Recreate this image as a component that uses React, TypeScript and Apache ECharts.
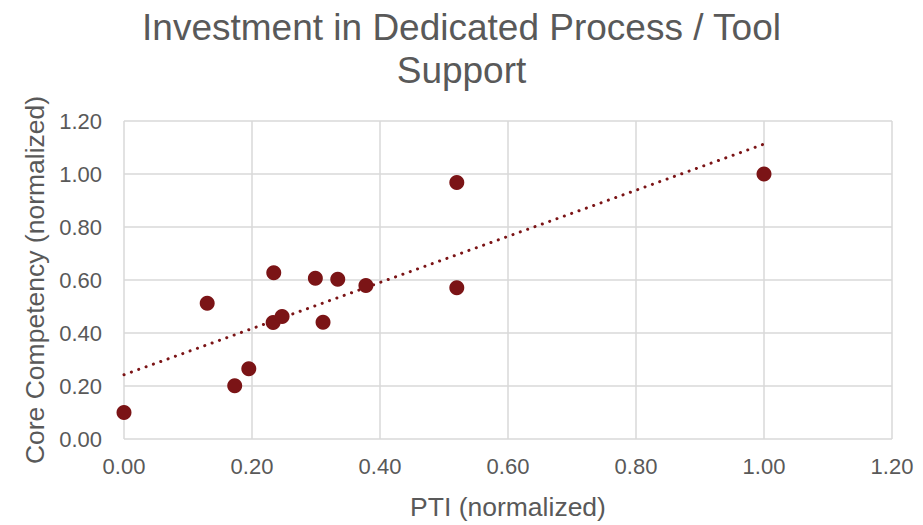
import React, { useEffect, useRef } from "react";
import * as echarts from "echarts";

const titleText = "Investment in Dedicated Process / Tool\nSupport";
const xAxisName = "PTI (normalized)";
const yAxisName = "Core Competency (normalized)";

const ptiValues = [0.0, 0.13, 0.173, 0.195, 0.234, 0.233, 0.247, 0.299, 0.334, 0.311, 0.378, 0.52, 0.52, 1.0];
const coreValues = [0.1, 0.512, 0.201, 0.265, 0.627, 0.44, 0.462, 0.607, 0.603, 0.441, 0.579, 0.968, 0.571, 1.0];

const pointColor = "#7B1416";
const textColor = "#595959";
const gridColor = "#D9D9D9";

function linearFit(xs: number[], ys: number[]) {
  const n = xs.length;
  const mx = xs.reduce((a, b) => a + b, 0) / n;
  const my = ys.reduce((a, b) => a + b, 0) / n;
  let sxy = 0;
  let sxx = 0;
  for (let i = 0; i < n; i++) {
    sxy += (xs[i] - mx) * (ys[i] - my);
    sxx += (xs[i] - mx) * (xs[i] - mx);
  }
  const slope = sxy / sxx;
  return { slope, intercept: my - slope * mx };
}

export default function App() {
  const ref = useRef<HTMLDivElement>(null);
  useEffect(() => {
    document.body.style.margin = "0";
    const chart = echarts.init(ref.current!, null, { renderer: "svg" });
    const fit = linearFit(ptiValues, coreValues);
    const xMin = Math.min(...ptiValues);
    const xMax = Math.max(...ptiValues);
    const trend = [
      [xMin, fit.intercept + fit.slope * xMin],
      [xMax, fit.intercept + fit.slope * xMax],
    ];
    const font = "'Liberation Sans', Arial, sans-serif";
    chart.setOption({
      animation: false,
      backgroundColor: "#ffffff",
      title: {
        text: titleText,
        left: "center",
        top: 1,
        textStyle: {
          fontFamily: font,
          fontSize: 37,
          fontWeight: "normal",
          color: textColor,
          lineHeight: 43,
        },
      },
      grid: { left: 124, right: 31, top: 121, bottom: 81, containLabel: false },
      xAxis: {
        type: "value",
        min: 0,
        max: 1.2,
        interval: 0.2,
        name: xAxisName,
        nameLocation: "middle",
        nameGap: 54,
        nameTextStyle: { fontFamily: font, fontSize: 26.5, color: textColor },
        axisLine: { show: false },
        axisTick: { show: false },
        axisLabel: {
          fontFamily: font,
          fontSize: 22,
          color: textColor,
          margin: 16,
          formatter: (v: number) => v.toFixed(2),
        },
        splitLine: { show: true, lineStyle: { color: gridColor, width: 1.5 } },
      },
      yAxis: {
        type: "value",
        min: 0,
        max: 1.2,
        interval: 0.2,
        name: yAxisName,
        nameLocation: "middle",
        nameGap: 74,
        nameTextStyle: { fontFamily: font, fontSize: 26.5, color: textColor },
        axisLine: { show: false },
        axisTick: { show: false },
        axisLabel: {
          fontFamily: font,
          fontSize: 22,
          color: textColor,
          margin: 22,
          formatter: (v: number) => v.toFixed(2),
        },
        splitLine: { show: true, lineStyle: { color: gridColor, width: 1.5 } },
      },
      series: [
        {
          type: "line",
          data: trend,
          symbol: "none",
          silent: true,
          lineStyle: { color: pointColor, width: 3, type: [0.1, 7.7], cap: "round" },
          z: 1,
        },
        {
          type: "scatter",
          data: ptiValues.map((x, i) => [x, coreValues[i]]),
          symbol: "circle",
          symbolSize: 15,
          itemStyle: { color: pointColor, opacity: 1 },
          z: 2,
        },
      ],
    });
    return () => chart.dispose();
  }, []);
  return <div ref={ref} style={{ position: "absolute", left: 0, top: 0, width: 923, height: 525 }} />;
}
